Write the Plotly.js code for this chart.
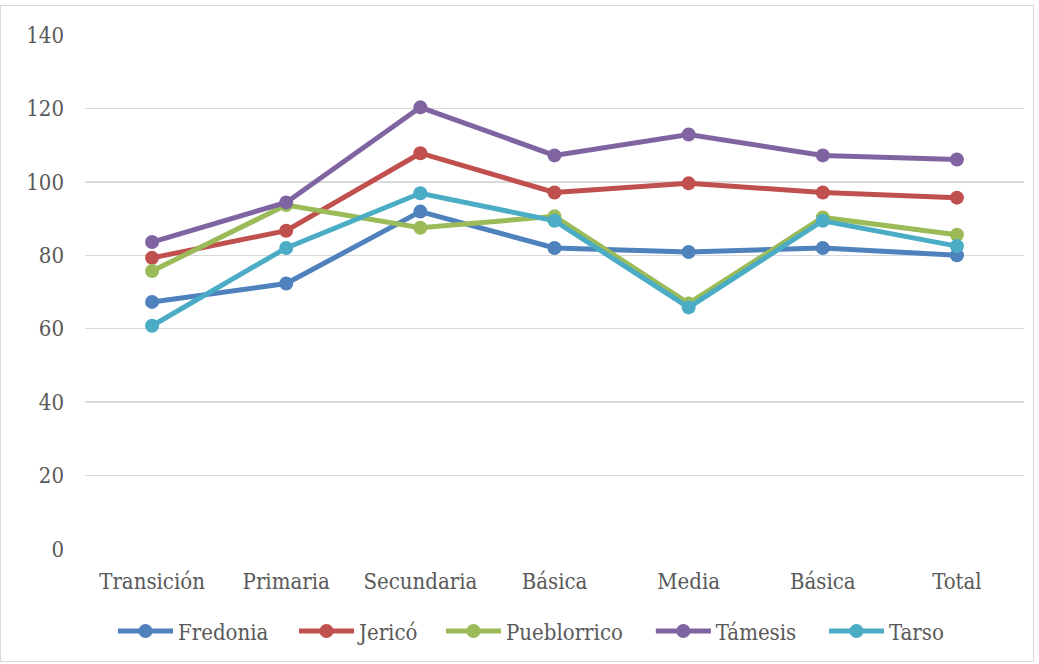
<!DOCTYPE html>
<html>
<head>
<meta charset="utf-8">
<script src="https://cdn.plot.ly/plotly-3.0.1.min.js"></script>
<style>
html,body{margin:0;padding:0;background:#fff;}
#wrap{position:absolute;left:0;top:5px;width:1034px;height:657px;border:1px solid #d9d9d9;box-sizing:border-box;}
#chart{position:absolute;left:0;top:0;width:1039px;height:664px;}
</style>
</head>
<body>
<div id="wrap"></div>
<div id="chart"></div>
<script>
var categories = ["Transición", "Primaria", "Secundaria", "Básica", "Media", "Básica", "Total"];
var seriesNames = ["Fredonia", "Jericó", "Pueblorrico", "Támesis", "Tarso"];
var fredonia    = [67.3, 72.3, 91.9, 82.0, 80.9, 82.0, 80.0];
var jerico      = [79.3, 86.7, 107.8, 97.1, 99.6, 97.1, 95.7];
var pueblorrico = [75.7, 93.7, 87.5, 90.6, 66.9, 90.3, 85.6];
var tamesis     = [83.6, 94.4, 120.3, 107.2, 112.9, 107.2, 106.1];
var tarso       = [60.8, 82.0, 96.9, 89.4, 65.8, 89.4, 82.5];
var yTicks = [0, 20, 40, 60, 80, 100, 120, 140];

var colors = ["#4F81BD", "#C0504D", "#9BBB59", "#8064A2", "#4BACC6"];
var values = [fredonia, jerico, pueblorrico, tamesis, tarso];
var xIdx = categories.map(function(c, i){ return i; });
var legendIds = ["legend", "legend2", "legend3", "legend4", "legend5"];
var legendX = [0.0298, 0.2226, 0.3791, 0.6026, 0.787];

var traces = values.map(function(v, i){
  return {
    x: xIdx, y: v, name: seriesNames[i], type: "scatter", mode: "lines+markers",
    line: {color: colors[i], width: 5},
    marker: {color: colors[i], size: 14},
    legend: legendIds[i]
  };
});

var font = {family: "'DejaVu Serif Condensed', 'DejaVu Serif', serif", size: 22, color: "#595959"};

var layout = {
  width: 1039, height: 664,
  margin: {l: 85, r: 15, t: 35, b: 112},
  paper_bgcolor: "rgba(0,0,0,0)", plot_bgcolor: "rgba(0,0,0,0)",
  font: font,
  showlegend: true,
  xaxis: {range: [-0.5, 6.5], tickvals: xIdx, ticktext: categories, showgrid: false,
          zeroline: false, showline: false, ticks: "", tickfont: font, fixedrange: true,
          ticklabelstandoff: 17},
  yaxis: {range: [0, 140], tickvals: yTicks, showgrid: true, gridcolor: "#d9d9d9", gridwidth: 1.5,
          zeroline: false, showline: false, ticks: "", tickfont: font, ticklabelstandoff: 20}
};
legendIds.forEach(function(id, i){
  layout[id] = {orientation: "h", x: legendX[i], xanchor: "left", y: -0.16, yanchor: "middle",
                font: font, itemwidth: 55, bgcolor: "rgba(0,0,0,0)", borderwidth: 0};
});

Plotly.newPlot("chart", traces, layout, {displayModeBar: false, staticPlot: true});
</script>
</body>
</html>
